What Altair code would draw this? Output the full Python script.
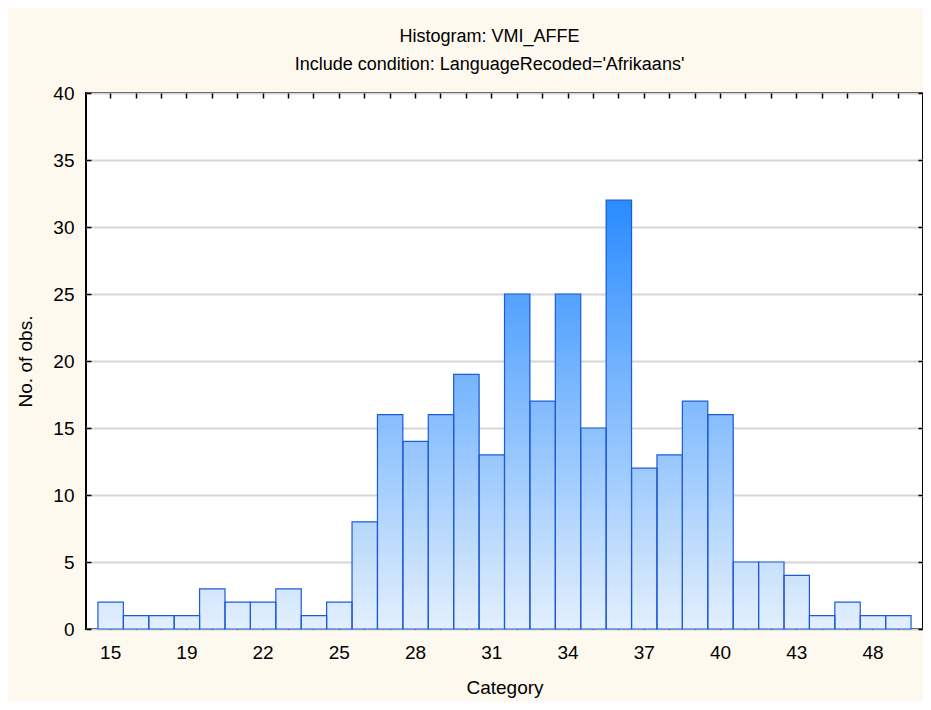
import altair as alt
import pandas as pd

categories = ['15', '16', '18', '19', '20', '21', '22', '23', '24', '25', '26', '27', '28',
              '29', '30', '31', '32', '33', '34', '35', '36', '37', '38', '39', '40', '41',
              '42', '43', '44', '46', '48', '49']
counts = [2, 1, 1, 1, 3, 2, 2, 3, 1, 2, 8, 16, 14, 16, 19, 13, 25, 17, 25, 15, 32, 12, 13,
          17, 16, 5, 5, 4, 1, 2, 1, 1]
tick_labels = ['15', '19', '22', '25', '28', '31', '34', '37', '40', '43', '48']
y_ticks = [0, 5, 10, 15, 20, 25, 30, 35, 40]

FONT = "Liberation Sans"
STEP = 0.25

bars = pd.DataFrame({"cat": categories, "count": counts, "base": 0})

# vertical colour gradient shared by all bars: each bar is built from nested slices
rows = []
for c, v in zip(categories, counts):
    k = 1
    while k * STEP <= v + 1e-9:
        rows.append({"cat": c, "level": k * STEP, "base": 0})
        k += 1
slices = pd.DataFrame(rows).sort_values("level", ascending=False).reset_index(drop=True)

xscale = alt.Scale(domain=categories, paddingInner=0, paddingOuter=0.47)
yscale = alt.Scale(domain=[0, 40], nice=False)

x_main = alt.X("cat:N", scale=xscale, sort=categories, title="Category",
               axis=alt.Axis(values=tick_labels, labelAngle=0, labelFontSize=19, labelFont=FONT,
                             labelColor="black", labelPadding=14, ticks=False, domain=False,
                             grid=False, titleFont=FONT, titleFontSize=19,
                             titleFontWeight="normal", titleColor="black", titlePadding=16))
y_main = alt.Y("level:Q", scale=yscale, title="No. of obs.",
               axis=alt.Axis(values=y_ticks, labelFontSize=19, labelFont=FONT, labelColor="black",
                             labelPadding=12, ticks=False, domain=False, grid=True,
                             gridColor="#d6d6d6", gridWidth=2, titleFont=FONT, titleFontSize=19,
                             titleFontWeight="normal", titleColor="black", titlePadding=17))

fill_layer = alt.Chart(slices).mark_bar(strokeWidth=0).encode(
    x=x_main,
    y=y_main,
    y2="base:Q",
    color=alt.Color("level:Q", legend=None,
                    scale=alt.Scale(domain=[0, 32], range=["#e4f0fd", "#2a8cff"],
                                    interpolate="rgb")),
)

outline = alt.Chart(bars).mark_bar(fillOpacity=0, stroke="#1f5ad6", strokeWidth=1.2).encode(
    x=alt.X("cat:N", scale=xscale, sort=categories, axis=None),
    y=alt.Y("count:Q", scale=yscale, axis=None),
    y2="base:Q",
)


def tick_layer(xorient=None, yorient=None):
    tick_axis = dict(offset=-5, tickSize=5, tickWidth=1.5, tickColor="black", labels=False,
                     domain=False, grid=False, title=None)
    xa = alt.Axis(orient=xorient, **tick_axis) if xorient else None
    ya = alt.Axis(orient=yorient, values=y_ticks, **tick_axis) if yorient else None
    return alt.Chart(bars).mark_bar(opacity=0).encode(
        x=alt.X("cat:N", scale=xscale, sort=categories, axis=xa),
        y=alt.Y("count:Q", scale=yscale, axis=ya),
        y2="base:Q",
    )


chart = alt.layer(
    fill_layer,
    outline,
    tick_layer(xorient="bottom"),
    tick_layer(xorient="top"),
    tick_layer(yorient="left"),
    tick_layer(yorient="right"),
).resolve_axis(x="independent", y="independent").properties(
    width=837,
    height=536,
    padding={"left": 78, "top": 85, "right": 0, "bottom": 72},
    autosize=alt.AutoSizeParams(type="none"),
    background="#fdf9ef",
    title=alt.TitleParams(
        text="Histogram: VMI_AFFE",
        subtitle="Include condition: LanguageRecoded='Afrikaans'",
        font=FONT, subtitleFont=FONT, fontSize=18, subtitleFontSize=18,
        fontWeight="normal", color="black", subtitleColor="black",
        anchor="middle", offset=10, subtitlePadding=10, dx=-15,
    ),
).configure_view(stroke="black", strokeWidth=2, fill="white")

chart.save("out.html", embed_options={"renderer": "svg", "actions": False})
